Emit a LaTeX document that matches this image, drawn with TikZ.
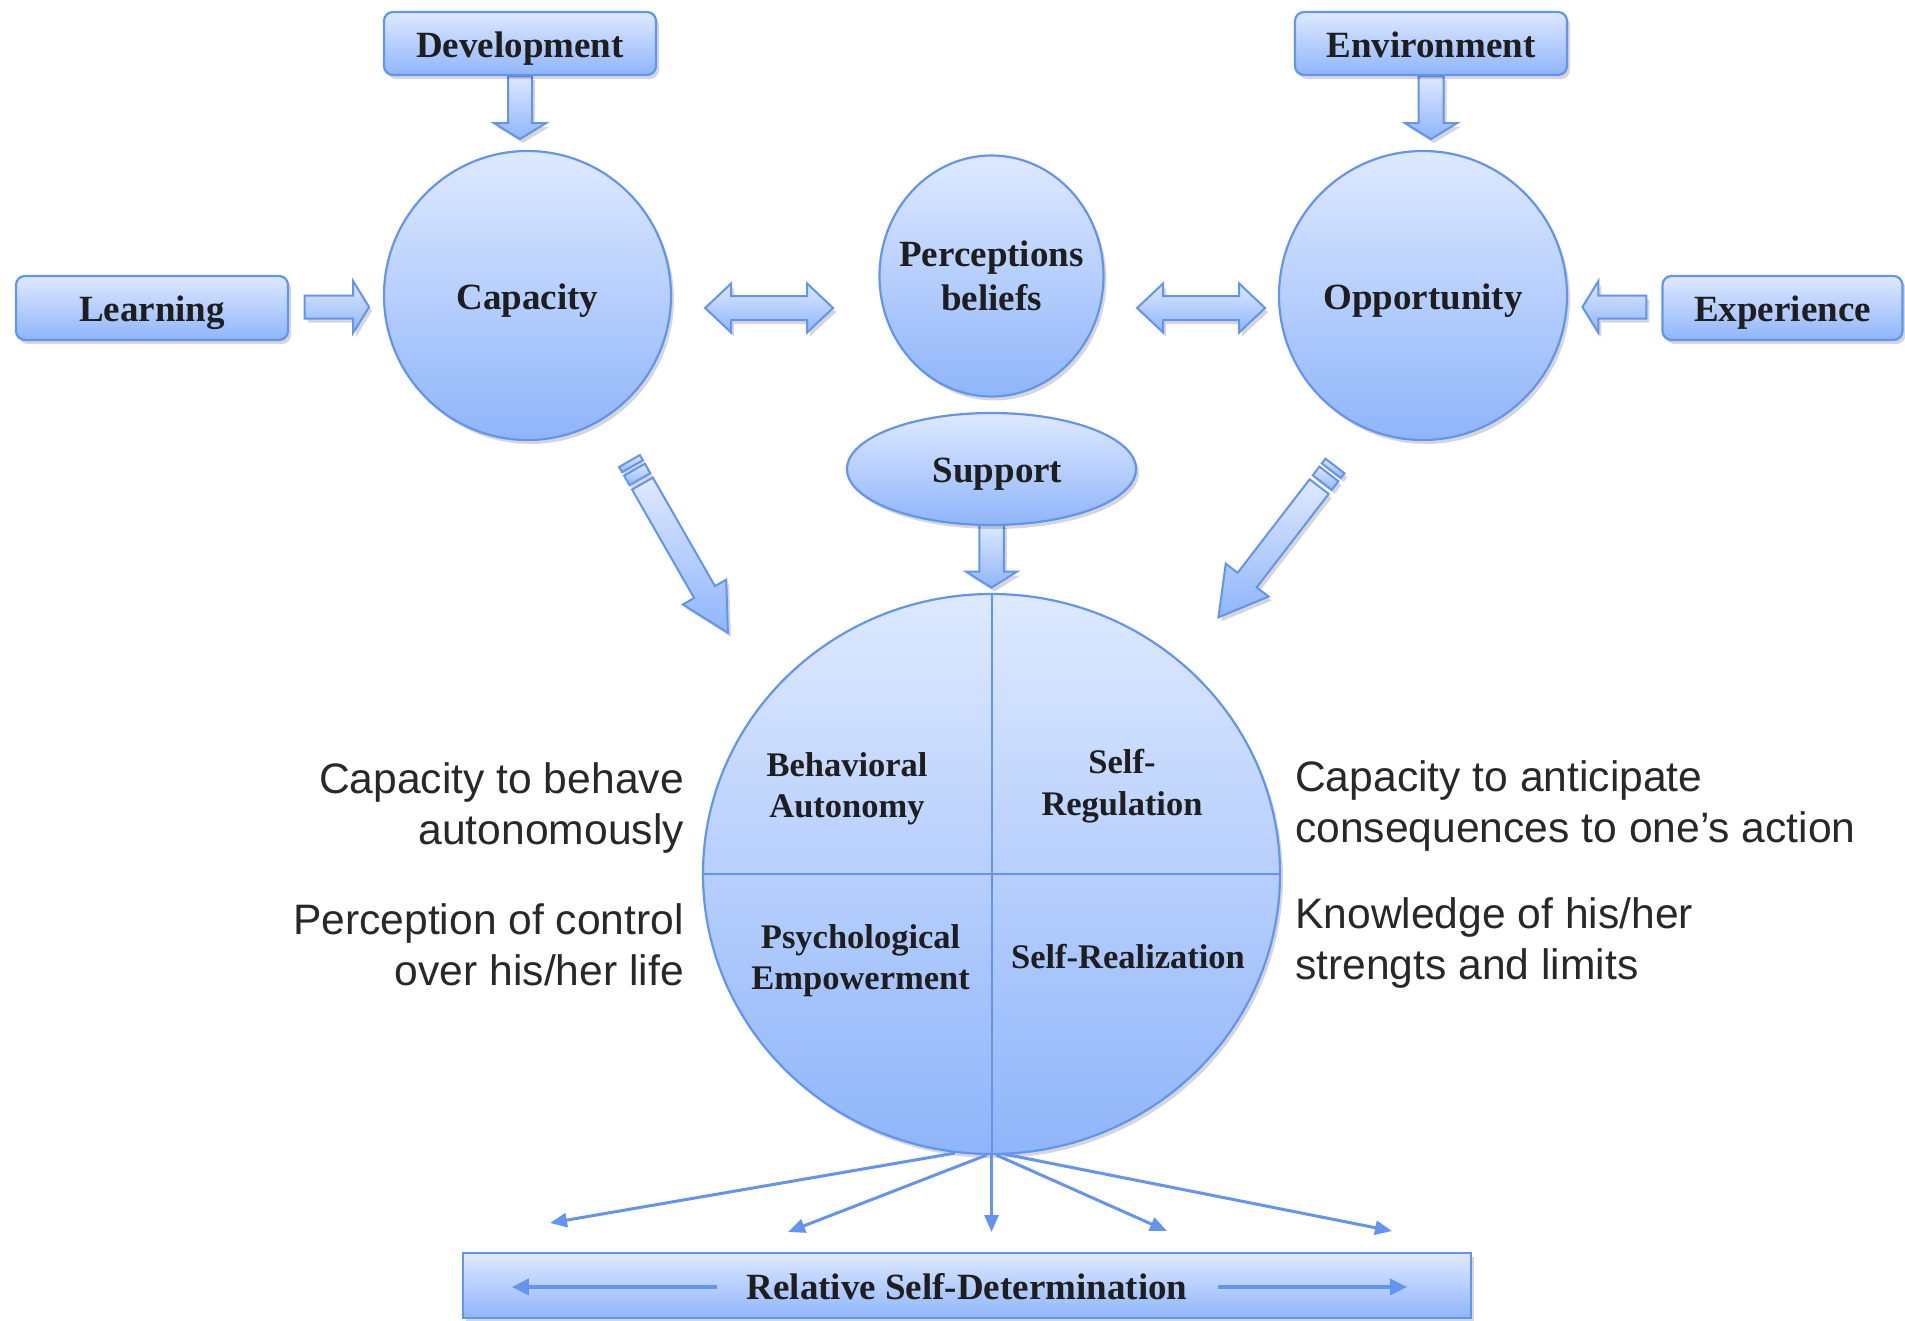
\documentclass[tikz,border=0pt]{standalone}
\usepackage{fontspec}
\setmainfont{Liberation Serif}
\newfontfamily\sidefamily{Liberation Sans}
\usetikzlibrary{shapes.geometric,arrows.meta,shadows,calc}
\pgfdeclarelayer{bg}
\pgfsetlayers{bg,main}

\definecolor{topc}{RGB}{222,233,255}
\definecolor{botc}{RGB}{143,181,250}
\definecolor{edgec}{RGB}{98,148,240}
\definecolor{txtc}{RGB}{30,30,30}
\definecolor{sidec}{RGB}{40,40,40}

\newcommand{\lblfont}{\fontsize{37}{44}\selectfont\bfseries}
\newcommand{\qfont}{\fontsize{34.5}{41.5}\selectfont\bfseries}
\newcommand{\sfont}{\sidefamily\fontsize{42.6}{51}\selectfont}

\tikzset{
  bluefill/.style={top color=topc, bottom color=botc, draw=edgec, line width=2.2pt},
  softshadow/.style={drop shadow={shadow xshift=3pt, shadow yshift=-4pt, opacity=0.16, fill=black}},
  rbox/.style={bluefill, softshadow, rounded corners=9pt, minimum width=272pt, minimum height=63pt, inner sep=0pt, font=\lblfont, text=txtc, text height=27pt, text depth=0pt},
  oval/.style={ellipse, bluefill, softshadow, inner sep=0pt, font=\lblfont, text=txtc, text height=27pt, text depth=0pt},
  lbl/.style={inner sep=0pt, font=\lblfont, text=txtc, align=center},
  qlbl/.style={inner sep=0pt, font=\qfont, text=txtc, align=center},
  side/.style={inner sep=0pt, font=\sfont, text=sidec},
  arrowbody/.style={top color=topc, bottom color=botc, draw=edgec, line width=2pt, line join=miter, softshadow},
  quadline/.style={draw=edgec, line width=2pt},
  fan/.style={draw=edgec, line width=3pt, -{Triangle[length=17pt,width=14pt]}},
  inarrow/.style={draw=edgec, line width=3.5pt, -{Triangle[length=17pt,width=16pt]}},
}

% tail, angle, length, head length, shaft width, head width
\newcommand{\blockarr}[6]{%
  \path[arrowbody, shift={(#1)}, rotate=#2] (0,{-#5/2}) -- ({#3-#4},{-#5/2}) -- ({#3-#4},{-#6/2}) -- (#3,0) -- ({#3-#4},{#6/2}) -- ({#3-#4},{#5/2}) -- (0,{#5/2}) -- cycle;}
\newcommand{\dblarr}[6]{%
  \path[arrowbody, shift={(#1)}, rotate=#2] (0,0) -- (#4,{-#6/2}) -- (#4,{-#5/2}) -- ({#3-#4},{-#5/2}) -- ({#3-#4},{-#6/2}) -- (#3,0) -- ({#3-#4},{#6/2}) -- ({#3-#4},{#5/2}) -- (#4,{#5/2}) -- (#4,{#6/2}) -- cycle;}
\newcommand{\stripearr}[6]{%
  \begin{scope}[shift={(#1)}, rotate=#2]
    \path[arrowbody] (0,{-#5/2}) -- (6,{-#5/2}) -- (6,{#5/2}) -- (0,{#5/2}) -- cycle;
    \path[arrowbody] (10,{-#5/2}) -- (21,{-#5/2}) -- (21,{#5/2}) -- (10,{#5/2}) -- cycle;
    \path[arrowbody] (26,{-#5/2}) -- ({#3-#4},{-#5/2}) -- ({#3-#4},{-#6/2}) -- (#3,0) -- ({#3-#4},{#6/2}) -- ({#3-#4},{#5/2}) -- (26,{#5/2}) -- cycle;
  \end{scope}}

\begin{document}
\begin{tikzpicture}[x=1pt,y=-1pt]
\useasboundingbox (0,0) rectangle (1905,1320);

% boxes
\node[rbox] (dev) at (520,43.5) {Development};
\node[rbox] (env) at (1431,43.5) {Environment};
\node[rbox, minimum height=64pt] (learn) at (152,308) {Learning};
\node[rbox, minimum width=240pt, minimum height=64pt] (exper) at (1782.5,308) {Experience};

% ovals
\node[oval, minimum width=287pt, minimum height=289pt] (cap) at (527.5,295.5) {Capacity};
\node[oval, minimum width=224pt, minimum height=241pt] (perc) at (991.5,276) {};
\node[lbl] (percT) at (perc.center) {Perceptions\\beliefs};
\node[oval, minimum width=288pt, minimum height=289pt] (opp) at (1423,295.5) {Opportunity};
\node[oval, minimum width=289pt, minimum height=112pt] (supp) at (991.5,469) {};
\node[lbl, text height=27pt, text depth=0pt] (suppT) at ($(supp.center)+(6,0)$) {Support};

% big circle
\node[ellipse, bluefill, softshadow, minimum width=577pt, minimum height=560pt, inner sep=0pt] (big) at (991.5,874) {};
\draw[quadline] (big.north) -- (big.south);
\draw[quadline] (big.west) -- (big.east);
\node[qlbl] (ba) at (847,788.6) {Behavioral\\Autonomy};
\node[qlbl] (sreg) at (1122,786) {Self-\\Regulation};
\node[qlbl] (pe) at (860.6,960.7) {Psychological\\Empowerment};
\node[qlbl] (sreal) at (1128,957) {Self-Realization};

% side texts
\node[side, anchor=east, align=right] (t1) at (684,807.5) {Capacity to behave\\autonomously};
\node[side, anchor=east, align=right] (t2) at (684,944.5) {Perception of control\\over his/her life};
\node[side, anchor=west, align=left] (t3) at (1295,805.5) {Capacity to anticipate\\consequences to one’s action};
\node[side, anchor=west, align=left] (t4) at (1295,942.5) {Knowledge of his/her\\strengts and limits};

% bottom box
\node[bluefill, softshadow, minimum width=1008pt, minimum height=65pt, inner sep=0pt, font=\lblfont, text=txtc, text height=27pt, text depth=0pt] (rsd) at (967,1285.5) {Relative Self-Determination};
\draw[inarrow] ($(rsd.west)+(255,1.5)$) -- ($(rsd.west)+(50,1.5)$);
\draw[inarrow] ($(rsd.east)+(-254,1.5)$) -- ($(rsd.east)+(-65,1.5)$);

% fan arrows
\coordinate (f1) at (550,1223);
\coordinate (f2) at (788,1232);
\coordinate (f3) at (991.5,1232);
\coordinate (f4) at (1167,1231);
\coordinate (f5) at (1392,1231);
\draw[fan] ($(big.south)+(-36.5,-2)$) -- (f1);
\draw[fan] ($(big.south)+(-5,0)$) -- (f2);
\draw[fan] (big.south) -- (f3);
\draw[fan] ($(big.south)+(5,0)$) -- (f4);
\draw[fan] ($(big.south)+(13,-1)$) -- (f5);

% striped arrows tails
\coordinate (stl) at (629.5,461);
\coordinate (stle) at (1335,466);

\begin{pgfonlayer}{bg}
  \fill[white] (0,0) rectangle (1905,1320);
  \blockarr{dev.south}{-90}{63}{16}{24}{52}
  \blockarr{env.south}{-90}{63}{16}{25}{52}
  \blockarr{$(learn.east)+(15.5,-1)$}{0}{64.5}{16}{23}{52}
  \blockarr{$(exper.west)+(-15,-1)$}{180}{64}{16}{23}{52}
  \blockarr{$(supp.south)+(0,-2)$}{-90}{63.5}{16}{24.5}{51}
  \dblarr{$(cap.east)+(33,12.5)$}{0}{128}{26}{24}{49}
  \dblarr{$(perc.east)+(32.5,32)$}{0}{128}{26}{24}{49}
  \stripearr{stl}{-60.2}{198}{47}{24}{50}
  \stripearr{stle}{-127.6}{191}{47}{24}{54}
\end{pgfonlayer}
\end{tikzpicture}
\end{document}
